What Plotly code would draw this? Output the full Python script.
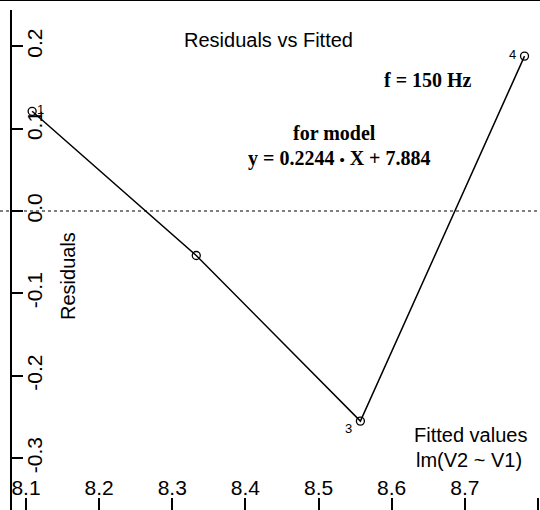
import plotly.graph_objects as go

# Data
obs_ids = ["1", "2", "3", "4"]
fitted = [8.1084, 8.3328, 8.5572, 8.7816]
residuals = [0.121, -0.054, -0.255, 0.188]
labelled = [0, 2, 3]  # indices of points that carry an id label
x_ticks = [8.1, 8.2, 8.3, 8.4, 8.5, 8.6, 8.7, 8.8]
x_ticktext = ["8.1", "8.2", "8.3", "8.4", "8.5", "8.6", "8.7", "8.8"]
y_ticks = [-0.3, -0.2, -0.1, 0.0, 0.1, 0.2]
y_ticktext = ["-0.3", "-0.2", "-0.1", "0.0", "0.1", "0.2"]

SANS = "Liberation Sans, Arial, sans-serif"
SERIF = "Liberation Serif, Times New Roman, serif"

# pixel offsets of id labels relative to their points (style only)
label_shift = {0: (8, 2), 2: (-12, -7), 3: (-12, 2)}

# the last x label sits on the canvas edge (cropped in the original); leave it blank
# so it does not push the page wider than the 540px canvas
x_shown = x_ticktext[:-1] + [""]

fig = go.Figure()

fig.add_trace(go.Scatter(
    x=fitted, y=residuals, mode="lines+markers",
    line=dict(color="black", width=1.5),
    marker=dict(symbol="circle-open", size=8, color="black", line=dict(width=1.3)),
    hoverinfo="x+y", showlegend=False,
))

# horizontal reference line at 0
fig.add_shape(type="line", xref="paper", yref="y", x0=0, x1=1, y0=0, y1=0,
              line=dict(color="black", width=1, dash="dot"))
# top frame line
fig.add_shape(type="line", xref="paper", yref="paper", x0=0, x1=1, y0=1, y1=1,
              line=dict(color="black", width=2))

annotations = [
    dict(text="Residuals vs Fitted", x=268/540, y=1 - 40/510, xref="paper", yref="paper",
         showarrow=False, font=dict(family=SANS, size=20), xanchor="center", yanchor="middle"),
    dict(text="<b>f = 150 Hz</b>", x=428/540, y=1 - 80/510, xref="paper", yref="paper",
         showarrow=False, font=dict(family=SERIF, size=20), xanchor="center", yanchor="middle"),
    dict(text="<b>for model</b>", x=334/540, y=1 - 133/510, xref="paper", yref="paper",
         showarrow=False, font=dict(family=SERIF, size=20), xanchor="center", yanchor="middle"),
    dict(text="<b>y = 0.2244 <span style='font-size:15px'>•</span> X + 7.884</b>",
         x=339/540, y=1 - 158/510, xref="paper", yref="paper",
         showarrow=False, font=dict(family=SERIF, size=20), xanchor="center", yanchor="middle"),
    dict(text="Residuals", x=68/540, y=1 - 276/510, xref="paper", yref="paper", textangle=-90,
         showarrow=False, font=dict(family=SANS, size=20), xanchor="center", yanchor="middle"),
    dict(text="Fitted values", x=470/540, y=1 - 435/510, xref="paper", yref="paper",
         showarrow=False, font=dict(family=SANS, size=20), xanchor="center", yanchor="middle"),
    dict(text="lm(V2 ~ V1)", x=469/540, y=1 - 460/510, xref="paper", yref="paper",
         showarrow=False, font=dict(family=SANS, size=20), xanchor="center", yanchor="middle"),
]
for i in labelled:
    dx, dy = label_shift[i]
    annotations.append(dict(
        text=obs_ids[i], x=fitted[i], y=residuals[i], xref="x", yref="y",
        xshift=dx, yshift=dy, showarrow=False,
        font=dict(family=SANS, size=13, color="black"),
        xanchor="center", yanchor="middle"))

fig.update_layout(
    width=540, height=510,
    margin=dict(l=0, r=0, t=0, b=0),
    paper_bgcolor="white", plot_bgcolor="white",
    font=dict(family=SANS, color="black"),
    xaxis=dict(
        domain=[12/540, 1],
        range=[8.08086, 8.80276],
        tickvals=x_ticks, ticktext=x_shown,
        ticks="inside", ticklen=12, tickwidth=1.5, tickcolor="black",
        ticklabelposition="inside", ticklabeloverflow="allow",
        tickfont=dict(family=SANS, size=21, color="black"),
        showgrid=False, zeroline=False, showline=False,
    ),
    yaxis=dict(
        domain=[0, 1 - 10/510],
        range=[-0.36286, 0.24393],
        tickvals=y_ticks, ticktext=y_ticktext,
        ticks="inside", ticklen=11, tickwidth=2, tickcolor="black",
        ticklabelposition="inside", tickangle=-90, ticklabeloverflow="allow",
        ticklabelstandoff=-5,
        tickfont=dict(family=SANS, size=21, color="black"),
        showgrid=False, zeroline=False,
        showline=True, linecolor="black", linewidth=2,
    ),
    annotations=annotations,
)

fig.write_html("out.html")
